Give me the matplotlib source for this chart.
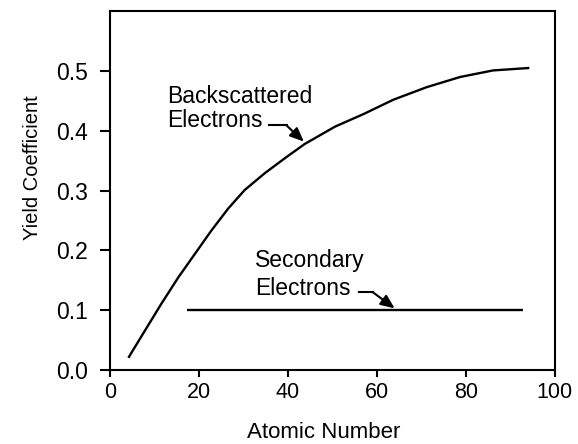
import matplotlib
matplotlib.use("Agg")
from matplotlib import pyplot as plt

plt.rcParams['font.family'] = ['Liberation Sans', 'DejaVu Sans']

# Backscattered electron yield vs atomic number
bse_z = [4.3, 7.9, 11.6, 15.4, 19.1, 22.8, 26.6, 30.3, 34.8, 39.3, 43.8, 50.6,
         57.0, 63.7, 71.2, 78.7, 86.1, 94.0]
bse_yield = [0.022, 0.066, 0.111, 0.155, 0.194, 0.233, 0.270, 0.301, 0.329, 0.354,
             0.378, 0.407, 0.428, 0.452, 0.473, 0.490, 0.501, 0.505]

# Secondary electron yield, roughly flat
se_z = [17.4, 92.9]
se_yield = [0.1, 0.1]

x_ticks = [0, 20, 40, 60, 80, 100]
y_ticks = [0.0, 0.1, 0.2, 0.3, 0.4, 0.5]

fig = plt.figure(figsize=(5.78, 4.44), dpi=100)
ax = fig.add_axes([0.190, 0.1667, 0.770, 0.808])

ax.plot(bse_z, bse_yield, color='black', lw=1.7, solid_joinstyle='round')
ax.plot(se_z, se_yield, color='black', lw=1.7, solid_capstyle='butt')

ax.set_xlim(0, 100)
ax.set_ylim(0, 0.6)
ax.set_xticks(x_ticks)
ax.set_yticks(y_ticks)
ax.set_yticklabels([f"{v:.1f}" for v in y_ticks])
ax.tick_params(axis='x', direction='out', length=5, width=1.5, labelsize=15.5, pad=4)
ax.tick_params(axis='y', direction='out', length=7, width=1.5, labelsize=16.5, pad=9)
for s in ax.spines.values():
    s.set_linewidth(1.5)

ax.set_xlabel('Atomic Number', fontsize=16)
ax.xaxis.set_label_coords(0.481, -0.146)
ax.xaxis.label.set_va('top')
ax.set_ylabel('Yield Coefficient', fontsize=14.5)
ax.yaxis.set_label_coords(-0.153, 0.563)

# labels
ax.text(12.9, 0.4457, 'Backscattered', fontsize=16.5, ha='left', va='baseline')
ax.text(12.9, 0.407, 'Electrons', fontsize=16.5, ha='left', va='baseline')
ax.text(32.6, 0.1716, 'Secondary', fontsize=16.5, ha='left', va='baseline')
ax.text(32.6, 0.1246, 'Electrons', fontsize=16.5, ha='left', va='baseline')

# little bent arrows
head = '-|>,head_length=0.7,head_width=0.3'
ax.plot([35.8, 39.7], [0.409, 0.409], color='black', lw=1.5)
ax.annotate('', xy=(43.6, 0.382), xytext=(39.7, 0.409),
            arrowprops=dict(arrowstyle=head, mutation_scale=12,
                            color='black', lw=1.5, shrinkA=0, shrinkB=0))
ax.plot([56.0, 59.1], [0.130, 0.130], color='black', lw=1.5)
ax.annotate('', xy=(64.0, 0.103), xytext=(59.1, 0.130),
            arrowprops=dict(arrowstyle=head, mutation_scale=12,
                            color='black', lw=1.5, shrinkA=0, shrinkB=0))

fig.savefig('out.png', dpi=100)
